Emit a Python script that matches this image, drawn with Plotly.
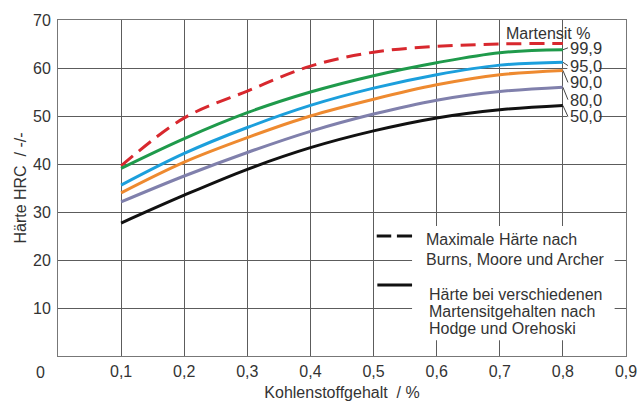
import plotly.graph_objects as go

carbon = [0.1, 0.2, 0.3, 0.4, 0.5, 0.6, 0.7, 0.8]
max_burns = [39.6, 49.6, 55.2, 60.4, 63.3, 64.5, 65.0, 65.1]
m999 = [39.1, 45.3, 50.7, 55.0, 58.4, 61.1, 63.2, 63.8]
m950 = [35.6, 42.2, 47.6, 52.2, 55.8, 58.6, 60.6, 61.2]
m900 = [34.0, 40.4, 45.5, 50.0, 53.5, 56.5, 58.6, 59.5]
m800 = [32.1, 37.5, 42.4, 46.8, 50.4, 53.3, 55.1, 56.0]
m500 = [27.7, 33.5, 38.9, 43.4, 46.9, 49.6, 51.3, 52.2]

series = [m999, m950, m900, m800, m500]
series_labels = ["99,9", "95,0", "90,0", "80,0", "50,0"]
series_colors = ["#1f9a4b", "#1c9fdc", "#ee8a30", "#8080ac", "#111111"]
label_y = [64.2, 60.5, 57.0, 53.4, 49.9]

xtick_vals = [0.1, 0.2, 0.3, 0.4, 0.5, 0.6, 0.7, 0.8, 0.9]
xtick_text = ["0,1", "0,2", "0,3", "0,4", "0,5", "0,6", "0,7", "0,8", "0,9"]
ytick_vals = [10, 20, 30, 40, 50, 60, 70]

FONT = "Liberation Sans, Arial, sans-serif"
TXT = "#333333"

fig = go.Figure()
fig.add_trace(go.Scatter(x=carbon, y=max_burns, mode="lines", line=dict(color="#d8282e", width=3, dash="15px,8px"),
                         line_shape="spline", showlegend=False))
for ys, c in zip(series, series_colors):
    fig.add_trace(go.Scatter(x=carbon, y=ys, mode="lines", line=dict(color=c, width=3),
                             line_shape="spline", showlegend=False))

shapes = []
annotations = []
# white box behind legend texts
shapes.append(dict(type="rect", xref="x", yref="y", x0=0.561, x1=0.882, y0=3.3, y1=27.1,
                   fillcolor="white", line=dict(width=0), layer="above"))
# white column behind curve labels
shapes.append(dict(type="rect", xref="x", yref="y", x0=0.807, x1=0.857, y0=48.0, y1=66.0,
                   fillcolor="white", line=dict(width=0), layer="above"))
# legend symbols
shapes.append(dict(type="line", xref="x", yref="y", x0=0.505, x1=0.528, y0=25.0, y1=25.0,
                   line=dict(color="#111", width=3), layer="above"))
shapes.append(dict(type="line", xref="x", yref="y", x0=0.537, x1=0.561, y0=25.0, y1=25.0,
                   line=dict(color="#111", width=3), layer="above"))
shapes.append(dict(type="line", xref="x", yref="y", x0=0.506, x1=0.561, y0=14.8, y1=14.8,
                   line=dict(color="#111", width=3), layer="above"))

leg_lines = [("Maximale Härte nach", 0.580, 24.3), ("Burns, Moore und Archer", 0.580, 20.2),
             ("Härte bei verschiedenen", 0.585, 12.8), ("Martensitgehalten nach", 0.585, 9.2),
             ("Hodge und Orehoski", 0.585, 5.8)]
for t, x, y in leg_lines:
    annotations.append(dict(x=x, y=y, xref="x", yref="y", text=t, showarrow=False, xanchor="left",
                            yanchor="middle", font=dict(family=FONT, size=16, color=TXT)))

# curve labels with leader lines
lx = carbon[-1] + 0.008
for ys, lab, ly in zip(series, series_labels, label_y):
    shapes.append(dict(type="line", xref="x", yref="y", x0=carbon[-1], y0=ys[-1], x1=lx, y1=ly,
                       line=dict(color="#444", width=1), layer="above"))
    annotations.append(dict(x=lx, y=ly, xref="x", yref="y", text=lab, showarrow=False, xanchor="left",
                            yanchor="middle", font=dict(family=FONT, size=16.5, color=TXT)))
annotations.append(dict(x=0.776, y=67.1, xref="x", yref="y", text="Martensit %", showarrow=False,
                        xanchor="center", yanchor="middle", font=dict(family=FONT, size=16, color=TXT)))
annotations.append(dict(x=-0.031, y=-0.05, xref="paper", yref="paper", text="0", showarrow=False,
                        xanchor="center", yanchor="middle", font=dict(family=FONT, size=16, color=TXT)))

fig.update_layout(
    width=638, height=401,
    margin=dict(l=58, r=12, t=20, b=45),
    paper_bgcolor="white", plot_bgcolor="white",
    font=dict(family=FONT, size=16, color=TXT),
    shapes=shapes, annotations=annotations,
    xaxis=dict(range=[0, 0.9], tickvals=xtick_vals, ticktext=xtick_text, showgrid=True,
               gridcolor="#5c5c5c", gridwidth=1, showline=True, linecolor="#777", linewidth=1, mirror=True,
               zeroline=False, ticks="", ticklabelstandoff=1, automargin=False,
               title=dict(text="Kohlenstoffgehalt  / %", standoff=7, font=dict(size=16))),
    yaxis=dict(range=[0, 70], tickvals=ytick_vals, showgrid=True, gridcolor="#5c5c5c", gridwidth=1,
               showline=True, linecolor="#777", linewidth=1, mirror=True, zeroline=False, ticks="",
               ticklabelstandoff=3, automargin=False,
               title=dict(text="Härte HRC  / -/-", standoff=2, font=dict(size=16))),
)

fig.write_html("out.html", config={"displayModeBar": False},
               post_script="document.body.style.margin='0px';document.body.style.overflow='hidden';")
